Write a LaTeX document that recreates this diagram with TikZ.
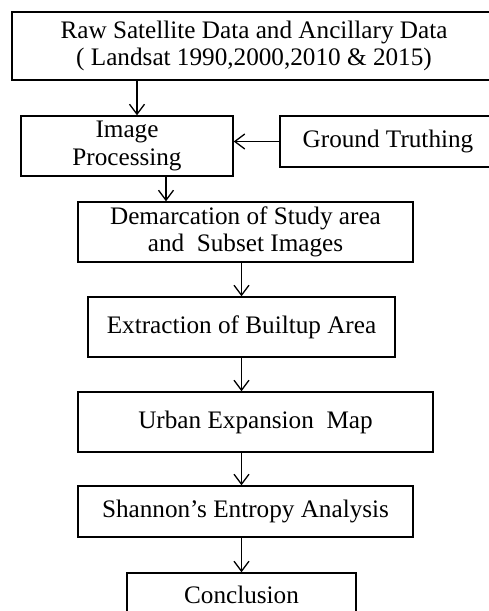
\documentclass[tikz,border=0pt]{standalone}
\usepackage{fontspec}
\setmainfont{Liberation Serif}
\usetikzlibrary{arrows.meta}
\tikzset{
procbox/.style={draw,rectangle,line width=1.4pt,inner sep=0pt,align=center,font=\fontsize{25.2}{27.5}\selectfont},
flow/.style={-{Straight Barb[length=10pt,width=15pt]},line width=1.3pt}}

\begin{document}
\begin{tikzpicture}[x=1pt,y=-1pt]
\useasboundingbox (0,0) rectangle (489,611);
\node[procbox,minimum width=484pt,minimum height=68pt] (raw) at (254,46) {Raw Satellite Data and Ancillary Data\\( Landsat 1990,2000,2010 \& 2015)};
\node[procbox,minimum width=212pt,minimum height=60pt] (imgproc) at (127,146) {Image\\Processing};
\node[procbox,minimum width=216pt,minimum height=51pt] (ground) at (388,141.5) {Ground Truthing};
\node[procbox,minimum width=335pt,minimum height=60pt] (demarc) at (245.5,232) {Demarcation of Study area\\and \ Subset Images};
\node[procbox,minimum width=307pt,minimum height=60pt] (extract) at (241.5,327) {Extraction of Builtup Area};
\node[procbox,minimum width=355pt,minimum height=60pt] (urban) at (255.5,422) {Urban Expansion \ Map};
\node[procbox,minimum width=335pt,minimum height=51pt] (shannon) at (245.5,511.5) {Shannon’s Entropy Analysis};
\node[procbox,minimum width=229pt,minimum height=44pt] (concl) at (241.5,595) {Conclusion};

\draw[flow] ([xshift=10pt]imgproc.north |- raw.south) -- ([xshift=10pt]imgproc.north);
\draw[flow] (ground.west) -- (ground.west -| imgproc.east);
\draw[flow] ([xshift=39pt]imgproc.south) -- ([xshift=39pt]imgproc.south |- demarc.north);
\draw[flow] (extract.north |- demarc.south) -- (extract.north);
\draw[flow] (extract.south) -- (extract.south |- urban.north);
\draw[flow] (urban.south -| extract.south) -- (shannon.north -| extract.south);
\draw[flow] (concl.north |- shannon.south) -- (concl.north);
\end{tikzpicture}
\end{document}
